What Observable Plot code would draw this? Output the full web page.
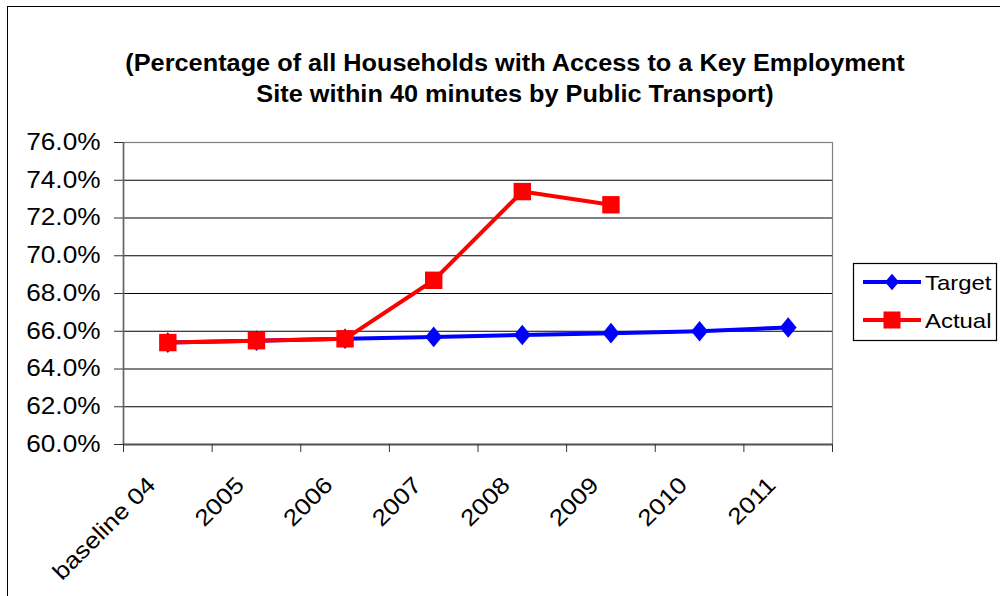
<!DOCTYPE html>
<html>
<head>
<meta charset="utf-8">
<script src="https://cdn.jsdelivr.net/npm/d3@7"></script>
<script src="https://cdn.jsdelivr.net/npm/@observablehq/plot@0.6"></script>
<style>
  html, body { margin: 0; padding: 0; background: #fff; }
  #wrap { position: relative; width: 1000px; height: 596px; overflow: hidden; font-family: "Liberation Sans", Arial, sans-serif; }
  #frame { position: absolute; left: 7px; top: 6px; width: 1000px; height: 600px; border-left: 1.5px solid #000; border-top: 1.5px solid #000; pointer-events: none; }
  #legend { position: absolute; left: 0; top: 0; }
</style>
</head>
<body>
<div id="wrap"><div id="frame"></div></div>
<script>
const categories = ["baseline 04", "2005", "2006", "2007", "2008", "2009", "2010", "2011"];
const target = [0.654, 0.655, 0.656, 0.657, 0.658, 0.659, 0.660, 0.662];
const actual = [0.654, 0.655, 0.656, 0.687, 0.734, 0.727];
const yTicks = [0.60, 0.62, 0.64, 0.66, 0.68, 0.70, 0.72, 0.74, 0.76];
const titleLines = [
  "(Percentage of all Households with Access to a Key Employment",
  "Site within 40 minutes by Public Transport)"
];
const seriesNames = ["Target", "Actual"];
const seriesColors = ["#0000FF", "#FF0000"];

const targetData = target.map((v, i) => ({i, v}));
const actualData = actual.map((v, i) => ({i, v}));
const boundaries = d3.range(0, categories.length + 1);

const diamondSym = {draw(ctx, size) { const r = Math.sqrt(size / Math.PI); ctx.moveTo(0, -r); ctx.lineTo(r * 0.82, 0); ctx.lineTo(0, r); ctx.lineTo(-r * 0.82, 0); ctx.closePath(); }};
const squareSym = {draw(ctx, size) { const r = Math.sqrt(size / Math.PI); ctx.rect(-r, -r, 2 * r, 2 * r); }};

const chart = Plot.plot({
  width: 1000,
  height: 596,
  marginLeft: 123,
  marginRight: 168,
  marginTop: 142,
  marginBottom: 152,
  style: {fontFamily: "'Liberation Sans', Arial, sans-serif", color: "#000", background: "transparent"},
  x: {type: "linear", domain: [0, categories.length], axis: null, label: null},
  y: {domain: [0.60, 0.76], axis: null, label: null},
  marks: [
    Plot.ruleY(yTicks, {stroke: "#000", strokeWidth: 1}),
    Plot.frame({stroke: "#808080", strokeWidth: 1.2}),
    Plot.ruleX([0], {stroke: "#666", strokeWidth: 1.6}),
    Plot.ruleY([0.60], {stroke: "#555", strokeWidth: 2}),
    Plot.axisY({ticks: yTicks, tickFormat: d3.format(".1%"), tickSize: 9, tickPadding: 14, fontSize: 23, stroke: "#333", label: null}),
    Plot.axisX({ticks: boundaries, tickFormat: () => "", tickSize: 8, stroke: "#333", label: null}),
    Plot.text(categories, {x: (d, i) => i + 0.5, frameAnchor: "bottom", text: d => d, rotate: -45, textAnchor: "end", lineAnchor: "bottom", dx: -11, dy: 42, fontSize: 23, fill: "#000"}),
    Plot.text([titleLines[0]], {frameAnchor: "top", text: d => d, dx: 37, dy: -72, lineAnchor: "bottom", fontSize: 23, fontWeight: "bold", fill: "#000", className: "title"}),
    Plot.text([titleLines[1]], {frameAnchor: "top", text: d => d, dx: 37, dy: -41, lineAnchor: "bottom", fontSize: 23, fontWeight: "bold", fill: "#000", className: "title"}),
    Plot.line(targetData, {x: d => d.i + 0.5, y: "v", stroke: seriesColors[0], strokeWidth: 4}),
    Plot.dot(targetData, {x: d => d.i + 0.5, y: "v", symbol: diamondSym, r: 10.3, fill: seriesColors[0], stroke: "none"}),
    Plot.line(actualData, {x: d => d.i + 0.5, y: "v", stroke: seriesColors[1], strokeWidth: 4}),
    Plot.dot(actualData, {x: d => d.i + 0.5, y: "v", symbol: squareSym, r: 8.7, fill: seriesColors[1], stroke: "none"})
  ]
});

const wrap = document.getElementById("wrap");
wrap.insertBefore(chart, wrap.firstChild);

// Legend
const ns = "http://www.w3.org/2000/svg";
const leg = document.createElementNS(ns, "svg");
leg.setAttribute("id", "legend");
leg.setAttribute("width", 1000);
leg.setAttribute("height", 596);
leg.style.fontFamily = "'Liberation Sans', Arial, sans-serif";
const box = document.createElementNS(ns, "rect");
box.setAttribute("x", 853.5); box.setAttribute("y", 263.5);
box.setAttribute("width", 143); box.setAttribute("height", 77);
box.setAttribute("fill", "#fff"); box.setAttribute("stroke", "#000"); box.setAttribute("stroke-width", 1.2);
leg.appendChild(box);
seriesNames.forEach((name, k) => {
  const cy = 282 + k * 38;
  const ln = document.createElementNS(ns, "line");
  ln.setAttribute("x1", 863); ln.setAttribute("x2", 921); ln.setAttribute("y1", cy); ln.setAttribute("y2", cy);
  ln.setAttribute("stroke", seriesColors[k]); ln.setAttribute("stroke-width", 4);
  leg.appendChild(ln);
  const m = document.createElementNS(ns, "path");
  m.setAttribute("d", k === 0 ? "M892,273.7L899,282L892,290.3L885,282Z" : `M883.5,${cy - 8.5}h17v17h-17Z`);
  m.setAttribute("fill", seriesColors[k]);
  leg.appendChild(m);
  const t = document.createElementNS(ns, "text");
  t.setAttribute("x", 925); t.setAttribute("y", cy + 8);
  t.setAttribute("font-size", 21); t.setAttribute("fill", "#000");
  t.textContent = name;
  leg.appendChild(t);
});
wrap.appendChild(leg);

// Horizontal stretch of text to mimic the reference rendering
document.querySelectorAll("#wrap svg text").forEach(t => {
  const L = t.getComputedTextLength();
  if (L > 0) {
    const isTitle = t.closest(".title") !== null;
    t.setAttribute("textLength", (L * (isTitle ? 1.10 : 1.14)).toFixed(1));
    t.setAttribute("lengthAdjust", "spacingAndGlyphs");
  }
});
</script>
</body>
</html>
